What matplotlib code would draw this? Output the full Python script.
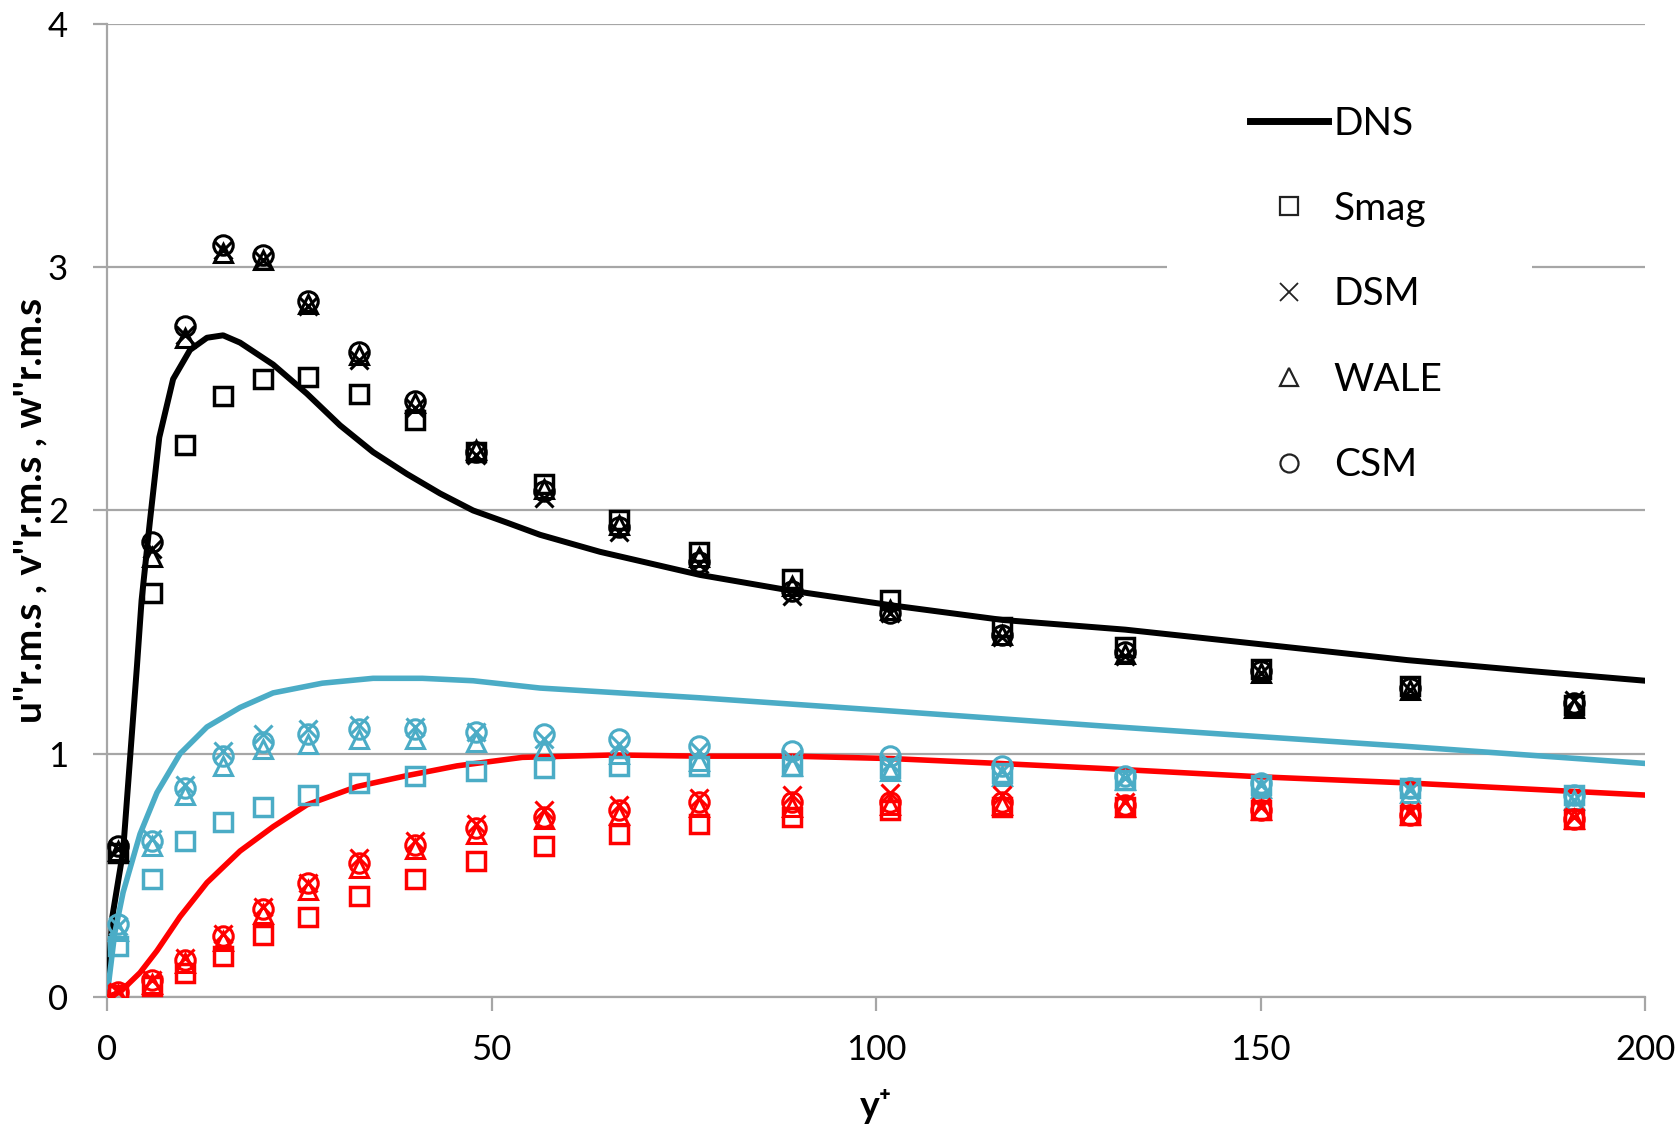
import numpy as np
import matplotlib
matplotlib.use('Agg')
import matplotlib.pyplot as plt
from matplotlib.lines import Line2D
from matplotlib.patches import Rectangle

plt.rcParams['font.family'] = ['Lato', 'DejaVu Sans']

# DNS profiles
dns_u_x = [0, 0.7, 2.1, 3.9, 4.5, 5.6, 6.8, 8.6, 10.8, 13.0, 15.1, 17.3, 21.6, 26.0, 30.3, 34.6,
           39.0, 43.3, 47.6, 52.0, 56.3, 64.1, 77.1, 89.0, 102.0, 116.4, 132.4, 150.0, 169.0, 185.0, 200.0]
dns_u = [0, 0.33, 0.60, 1.36, 1.63, 1.96, 2.30, 2.54, 2.66, 2.71, 2.72, 2.69, 2.60, 2.48, 2.35, 2.24,
         2.15, 2.07, 2.00, 1.95, 1.90, 1.83, 1.735, 1.67, 1.61, 1.55, 1.51, 1.45, 1.385, 1.34, 1.30]

dns_w_x = [0, 1.0, 2.1, 4.3, 6.5, 9.5, 13.0, 17.3, 21.6, 28.0, 34.6, 41.0, 47.6, 56.3,
           77.0, 100.0, 129.0, 150.0, 169.0, 200.0]
dns_w = [0, 0.26, 0.43, 0.67, 0.84, 1.00, 1.11, 1.19, 1.25, 1.29, 1.31, 1.31, 1.30, 1.27,
         1.23, 1.18, 1.115, 1.07, 1.03, 0.96]

dns_v_x = [0, 1.7, 4.3, 6.5, 9.5, 13.0, 17.3, 21.6, 26.0, 32.5, 39.0, 45.5, 54.0, 66.0,
           77.0, 89.0, 102.0, 116.0, 129.0, 150.0, 169.0, 200.0]
dns_v = [0, 0.02, 0.10, 0.19, 0.33, 0.47, 0.60, 0.70, 0.79, 0.865, 0.91, 0.95, 0.985, 0.995,
         0.99, 0.99, 0.98, 0.96, 0.94, 0.905, 0.88, 0.83]

# LES results
les_x = [1.5, 5.9, 10.2, 15.1, 20.3, 26.2, 32.8, 40.1, 48.0, 56.8, 66.6, 77.0, 89.0,
         101.8, 116.3, 132.3, 150.0, 169.4, 190.7]

u_smag = [0.59, 1.66, 2.27, 2.47, 2.54, 2.55, 2.48, 2.37, 2.24, 2.11, 1.96, 1.83, 1.72, 1.63, 1.52, 1.44, 1.35, 1.28, 1.20]
u_dsm = [0.61, 1.84, 2.72, 3.07, 3.03, 2.84, 2.62, 2.42, 2.23, 2.05, 1.91, 1.78, 1.65, 1.58, 1.48, 1.40, 1.33, 1.26, 1.22]
u_wale = [0.60, 1.81, 2.71, 3.06, 3.03, 2.85, 2.64, 2.44, 2.25, 2.09, 1.94, 1.81, 1.69, 1.59, 1.49, 1.41, 1.33, 1.26, 1.19]
u_csm = [0.62, 1.87, 2.76, 3.09, 3.05, 2.86, 2.65, 2.45, 2.24, 2.08, 1.93, 1.79, 1.67, 1.58, 1.49, 1.42, 1.34, 1.27, 1.21]

w_smag = [0.21, 0.485, 0.64, 0.72, 0.78, 0.83, 0.88, 0.91, 0.93, 0.94, 0.95, 0.95, 0.95, 0.94, 0.92, 0.89, 0.87, 0.86, 0.83]
w_dsm = [0.29, 0.65, 0.87, 1.01, 1.08, 1.10, 1.12, 1.11, 1.09, 1.06, 1.04, 1.01, 0.98, 0.96, 0.93, 0.90, 0.87, 0.85, 0.81]
w_wale = [0.27, 0.62, 0.83, 0.95, 1.02, 1.04, 1.06, 1.06, 1.05, 1.02, 1.00, 0.97, 0.95, 0.93, 0.91, 0.89, 0.86, 0.84, 0.81]
w_csm = [0.30, 0.64, 0.86, 0.99, 1.05, 1.08, 1.10, 1.10, 1.09, 1.08, 1.06, 1.03, 1.01, 0.99, 0.95, 0.91, 0.88, 0.86, 0.83]

v_smag = [0.01, 0.045, 0.10, 0.17, 0.255, 0.33, 0.415, 0.485, 0.56, 0.62, 0.67, 0.71, 0.74, 0.77, 0.78, 0.78, 0.77, 0.75, 0.73]
v_dsm = [0.02, 0.07, 0.16, 0.26, 0.37, 0.47, 0.57, 0.64, 0.71, 0.77, 0.79, 0.82, 0.83, 0.84, 0.83, 0.80, 0.78, 0.76, 0.74]
v_wale = [0.01, 0.055, 0.14, 0.23, 0.34, 0.44, 0.53, 0.61, 0.67, 0.73, 0.75, 0.78, 0.78, 0.79, 0.79, 0.78, 0.77, 0.75, 0.73]
v_csm = [0.02, 0.07, 0.15, 0.25, 0.36, 0.47, 0.55, 0.625, 0.695, 0.74, 0.77, 0.80, 0.80, 0.80, 0.80, 0.79, 0.77, 0.75, 0.73]

BLACK = '#000000'
CYAN = '#4bacc6'
RED = '#ff0000'
GRID = '#a6a6a6'

fig = plt.figure(figsize=(16.79, 11.25), dpi=100)
ax = fig.add_axes([0.0637, 0.1138, 0.9163, 0.8649])

ax.plot(dns_u_x, dns_u, color=BLACK, lw=4.3, zorder=3, solid_capstyle='round')
ax.plot(dns_w_x, dns_w, color=CYAN, lw=4.0, zorder=3, solid_capstyle='round')
ax.plot(dns_v_x, dns_v, color=RED, lw=4.0, zorder=3, solid_capstyle='round')

groups = [
    (BLACK, u_smag, u_dsm, u_wale, u_csm),
    (CYAN, w_smag, w_dsm, w_wale, w_csm),
    (RED, v_smag, v_dsm, v_wale, v_csm),
]
for col, sm, ds, wa, cs in groups:
    ax.plot(les_x, sm, ls='none', marker='s', ms=13, mfc='none', mec=col, mew=2.5, zorder=4)
    ax.plot(les_x, ds, ls='none', marker='x', ms=13, mfc='none', mec=col, mew=2.2, zorder=4)
    ax.plot(les_x, wa, ls='none', marker='^', ms=13, mfc='none', mec=col, mew=2.2, zorder=4)
    ax.plot(les_x, cs, ls='none', marker='o', ms=14, mfc='none', mec=col, mew=2.2, zorder=4)

ax.set_xlim(0, 200)
ax.set_ylim(0, 4)
ax.set_xticks([0, 50, 100, 150, 200])
ax.set_yticks([0, 1, 2, 3, 4])
ax.grid(axis='y', color=GRID, lw=1.6, zorder=0)
ax.set_axisbelow(True)
for s in ['top', 'right']:
    ax.spines[s].set_visible(False)
for s in ['left', 'bottom']:
    ax.spines[s].set_color(GRID)
    ax.spines[s].set_linewidth(1.6)
ax.tick_params(axis='both', colors=GRID, length=10, width=1.6, labelsize=25,
               labelcolor='black')
ax.tick_params(axis='y', pad=18)
ax.tick_params(axis='x', pad=17)

ax.set_ylabel("u''r.m.s , v''r.m.s , w''r.m.s", fontsize=28, fontweight='bold', labelpad=0)
ax.set_xlabel('y⁺', fontsize=27, fontweight='bold', labelpad=16)

# white legend background that hides the gridline behind it
ax.add_patch(Rectangle((0.689, 0.53), 0.237, 0.43, transform=ax.transAxes,
                       facecolor='white', edgecolor='none', zorder=1))

handles = [
    Line2D([], [], color=BLACK, lw=5),
    Line2D([], [], ls='none', marker='s', ms=13, mfc='none', mec='#222222', mew=1.6),
    Line2D([], [], ls='none', marker='x', ms=13, mfc='none', mec='#222222', mew=1.3),
    Line2D([], [], ls='none', marker='^', ms=13, mfc='none', mec='#222222', mew=1.6),
    Line2D([], [], ls='none', marker='o', ms=13, mfc='none', mec='#222222', mew=1.6),
]
labels = ['DNS', 'Smag', 'DSM', 'WALE', 'CSM']
leg = ax.legend(handles, labels, loc='upper left', bbox_to_anchor=(0.743, 0.916),
                frameon=False, fontsize=28, handlelength=2.0, handletextpad=0.15,
                labelspacing=1.27, borderpad=0, borderaxespad=0)
leg.set_zorder(5)

fig.savefig('out.png', dpi=100, facecolor='white')
